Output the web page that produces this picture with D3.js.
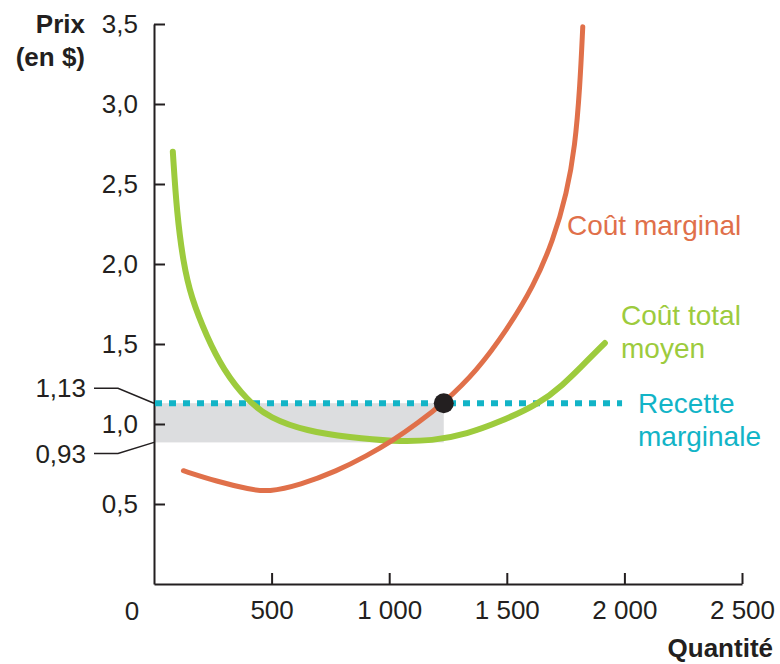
<!DOCTYPE html>
<html>
<head>
<meta charset="utf-8">
<script src="https://cdn.jsdelivr.net/npm/d3@7"></script>
<style>
  body { margin: 0; background: #fff; }
  text { font-family: "Liberation Sans", Arial, sans-serif; }
</style>
</head>
<body>
<svg id="chart"></svg>
<script>
const WIDTH = 780;
const HEIGHT = 664;

// courbe du coût marginal (quantité, prix)
const mcQ = [125, 267, 408, 485, 621, 777, 904, 1016, 1122, 1231, 1372, 1500, 1613, 1698, 1755, 1790, 1811, 1823];
const mcP = [0.708, 0.641, 0.591, 0.575, 0.619, 0.706, 0.80, 0.897, 1.006, 1.131, 1.331, 1.588, 1.858, 2.15, 2.442, 2.733, 3.108, 3.483];

// coût total moyen
const atcQ = [80, 97, 125, 157, 224, 295, 394, 493, 649, 833, 1016, 1186, 1331, 1471, 1641, 1740, 1811, 1917];
const atcP = [2.702, 2.317, 2.004, 1.796, 1.546, 1.338, 1.15, 1.036, 0.956, 0.916, 0.891, 0.894, 0.938, 1.013, 1.129, 1.247, 1.35, 1.506];

// recette marginale
const mrPrice = 1.13;
const mrQ = [0, 1990];

// point optimal et rectangle gris
const optQ = 1232;
const atcAtOpt = 0.885;

const xTicks = [500, 1000, 1500, 2000, 2500];
const yTicks = [0.5, 1.0, 1.5, 2.0, 2.5, 3.0, 3.5];
const markLabels = ["1,13", "0,93"];

const ORANGE = "#e0704a";
const GREEN = "#9dcb3d";
const TEAL = "#12b4c7";
const INK = "#231f20";

const locale = d3.formatLocale({decimal: ",", thousands: " ", grouping: [3], currency: ["", " $"]});

const svg = d3.select("#chart")
    .attr("width", WIDTH)
    .attr("height", HEIGHT);

const x = d3.scaleLinear().domain([0, 2500]).range([154, 742]);
const y = d3.scaleLinear().domain([0, 3.5]).range([584, 24]);

// rectangle gris
svg.append("rect")
    .attr("x", x(0))
    .attr("y", y(mrPrice))
    .attr("width", x(optQ) - x(0))
    .attr("height", y(atcAtOpt) - y(mrPrice))
    .attr("fill", "#dcdddf");

// axes
const xAxis = svg.append("g")
    .attr("transform", `translate(0,${y(0)})`)
    .call(d3.axisBottom(x).tickValues(xTicks).tickFormat(locale.format(",d"))
        .tickSizeInner(-11).tickSizeOuter(0).tickPadding(17));
const yAxis = svg.append("g")
    .attr("transform", `translate(${x(0)},0)`)
    .call(d3.axisLeft(y).tickValues(yTicks).tickFormat(locale.format(".1f"))
        .tickSizeInner(-11).tickSizeOuter(0).tickPadding(16));

[xAxis, yAxis].forEach(g => {
  g.select(".domain").attr("stroke", INK).attr("stroke-width", 2);
  g.selectAll(".tick line").attr("stroke", INK).attr("stroke-width", 2);
  g.selectAll(".tick text")
      .attr("fill", INK)
      .style("font-size", "26px")
      .style("font-family", "'Liberation Sans', Arial, sans-serif");
});

svg.append("text")
    .attr("x", x(0) - 22).attr("y", 620)
    .attr("text-anchor", "middle")
    .attr("fill", INK).style("font-size", "26px")
    .text("0");

// titres d'axes
svg.append("text")
    .attr("x", 85).attr("y", 33)
    .attr("text-anchor", "end").attr("fill", INK)
    .style("font-size", "26px").style("font-weight", "bold")
    .text("Prix");
svg.append("text")
    .attr("x", 85).attr("y", 66)
    .attr("text-anchor", "end").attr("fill", INK)
    .style("font-size", "26px").style("font-weight", "bold")
    .text("(en $)");
svg.append("text")
    .attr("x", 773).attr("y", 657)
    .attr("text-anchor", "end").attr("fill", INK)
    .style("font-size", "26px").style("font-weight", "bold")
    .text("Quantité");

// étiquettes 1,13 et 0,93 avec traits de rappel
[[mrPrice, -15], [atcAtOpt, 11]].forEach(([v, dy], i) => {
  const ly = y(v) + dy;
  svg.append("path")
      .attr("d", `M94,${ly}H118L${x(0)},${y(v)}`)
      .attr("fill", "none").attr("stroke", INK).attr("stroke-width", 1.5);
  svg.append("text")
      .attr("x", 86).attr("y", ly).attr("dy", "0.35em")
      .attr("text-anchor", "end").attr("fill", INK)
      .style("font-size", "26px")
      .text(markLabels[i]);
});

// lissage B-spline pour des courbes régulières
const line = d3.line()
    .x(d => x(d[0]))
    .y(d => y(d[1]))
    .curve(d3.curveBasis);

// recette marginale en pointillés
svg.append("line")
    .attr("x1", x(mrQ[0]) + 1).attr("x2", x(mrQ[1]))
    .attr("y1", y(mrPrice)).attr("y2", y(mrPrice))
    .attr("stroke", TEAL).attr("stroke-width", 6)
    .attr("stroke-dasharray", "7,7");

// coût total moyen
svg.append("path")
    .datum(atcQ.map((q, i) => [q, atcP[i]]))
    .attr("d", line)
    .attr("fill", "none").attr("stroke", GREEN)
    .attr("stroke-width", 6).attr("stroke-linecap", "round");

// coût marginal
svg.append("path")
    .datum(mcQ.map((q, i) => [q, mcP[i]]))
    .attr("d", line)
    .attr("fill", "none").attr("stroke", ORANGE)
    .attr("stroke-width", 5).attr("stroke-linecap", "round");

svg.append("circle")
    .attr("cx", x(optQ)).attr("cy", y(mrPrice))
    .attr("r", 10).attr("fill", INK);

// légendes des courbes
function label(lines, lx, ly, color) {
  const t = svg.append("text")
      .attr("x", lx).attr("y", ly)
      .attr("fill", color).style("font-size", "28px");
  lines.forEach((s, i) => t.append("tspan").attr("x", lx).attr("dy", i ? 33 : 0).text(s));
}
label(["Coût marginal"], 567, 235, ORANGE);
label(["Coût total", "moyen"], 621, 325, GREEN);
label(["Recette", "marginale"], 638, 413, TEAL);
</script>
</body>
</html>
